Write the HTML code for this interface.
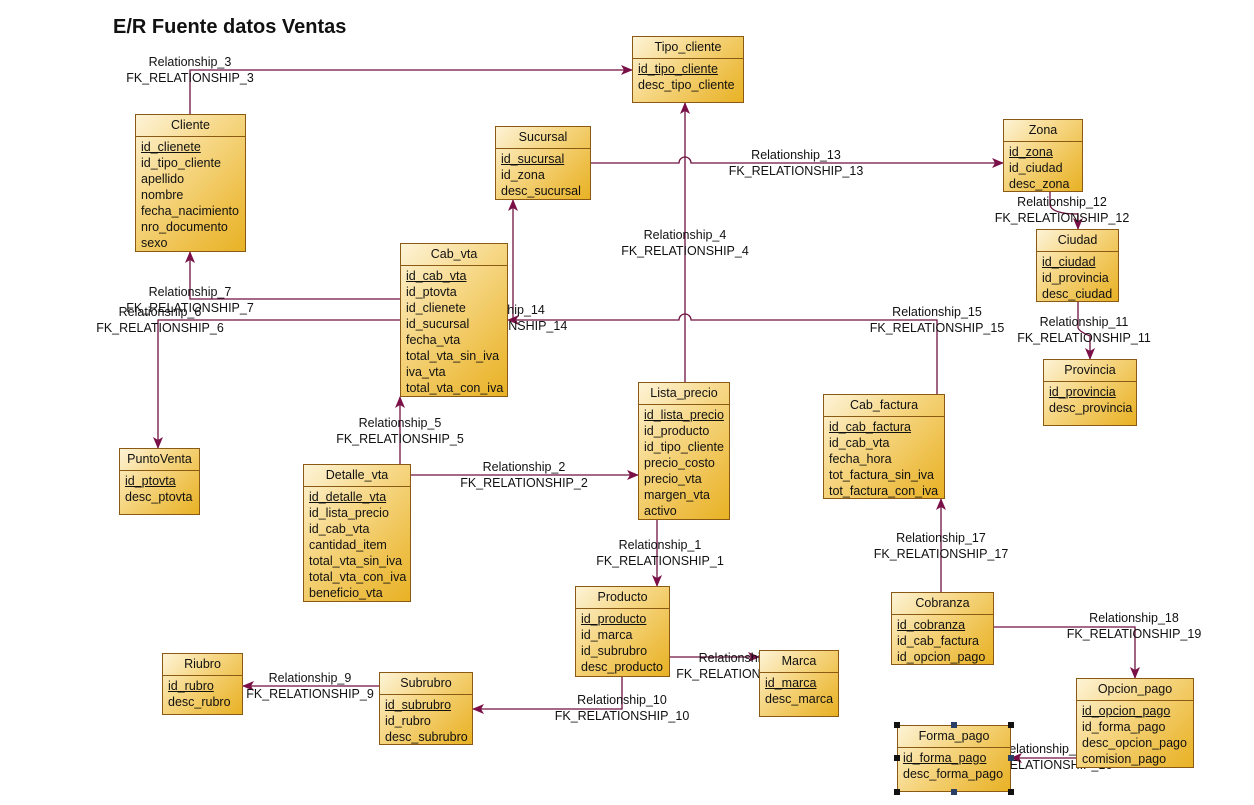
<!DOCTYPE html>
<html><head><meta charset="utf-8"><style>
body{margin:0;width:1254px;height:805px;background:#fff;position:relative;overflow:hidden;font-family:"Liberation Sans",Arial,sans-serif;font-size:12px;color:#111}
.e{position:absolute;border:1px solid #8a5a14;background:linear-gradient(135deg,#fdf3d6 0%,#f6d785 40%,#eec04a 75%,#e8b225 100%);box-sizing:border-box}
.e .h{height:21px;line-height:21px;text-align:center;border-bottom:1px solid #8a5a14;font-size:12.5px}
.e .r{padding:2px 0 0 5px;line-height:16px;white-space:nowrap;font-size:12.5px}
.e .r u{text-decoration:underline}
.l{position:absolute;transform:translateX(-50%);text-align:center;line-height:16px;white-space:nowrap;font-size:12.5px}
svg{position:absolute;left:0;top:0}
.t{position:absolute;left:113px;top:16px;font-weight:bold;font-size:20px}
</style></head><body>
<div class="t">E/R Fuente datos Ventas</div>
<svg width="1254" height="805" viewBox="0 0 1254 805">
<defs><marker id="a" markerWidth="12" markerHeight="12" refX="11" refY="6" orient="auto" markerUnits="userSpaceOnUse"><path d="M0,1 L12,6 L0,11 L3,6z" fill="#7a1047"/></marker></defs>
<g fill="none" stroke="#6e1240" stroke-width="1.3">
<path d="M190,114 V70 H632" marker-end="url(#a)"/>
<path d="M685,382 V103" marker-end="url(#a)"/>
<path d="M591,163 H679 a6,6 0 0 1 12,0 H1003" marker-end="url(#a)"/>
<path d="M1050,192 V205 Q1052,214 1078,214 V229" marker-end="url(#a)"/>
<path d="M1078,302 V328 Q1080,332 1090,336 V359" marker-end="url(#a)"/>
<path d="M937,394 V320 H691 a6,6 0 0 0 -12,0 H508" marker-end="url(#a)"/>
<path d="M513,320 V200" marker-end="url(#a)"/>
<path d="M400,299 H190 V252" marker-end="url(#a)"/>
<path d="M400,320 H158 V448" marker-end="url(#a)"/>
<path d="M400,464 V397" marker-end="url(#a)"/>
<path d="M411,475 H638" marker-end="url(#a)"/>
<path d="M657,520 V586" marker-end="url(#a)"/>
<path d="M670,657 H759" marker-end="url(#a)"/>
<path d="M622,677 V709 H473" marker-end="url(#a)"/>
<path d="M379,686 H243" marker-end="url(#a)"/>
<path d="M941,592 V499" marker-end="url(#a)"/>
<path d="M994,627 H1135 V678" marker-end="url(#a)"/>
<path d="M1076,758 H1011" marker-end="url(#a)"/>
</g></svg>
<div class="l" style="left:190px;top:54px">Relationship_3<br>FK_RELATIONSHIP_3</div>
<div class="l" style="left:685px;top:227px">Relationship_4<br>FK_RELATIONSHIP_4</div>
<div class="l" style="left:796px;top:147px">Relationship_13<br>FK_RELATIONSHIP_13</div>
<div class="l" style="left:1062px;top:194px">Relationship_12<br>FK_RELATIONSHIP_12</div>
<div class="l" style="left:1084px;top:314px">Relationship_11<br>FK_RELATIONSHIP_11</div>
<div class="l" style="left:937px;top:304px">Relationship_15<br>FK_RELATIONSHIP_15</div>
<div class="l" style="left:500px;top:302px">Relationship_14<br>FK_RELATIONSHIP_14</div>
<div class="l" style="left:190px;top:284px">Relationship_7<br>FK_RELATIONSHIP_7</div>
<div class="l" style="left:160px;top:304px">Relationship_6<br>FK_RELATIONSHIP_6</div>
<div class="l" style="left:400px;top:415px">Relationship_5<br>FK_RELATIONSHIP_5</div>
<div class="l" style="left:524px;top:459px">Relationship_2<br>FK_RELATIONSHIP_2</div>
<div class="l" style="left:660px;top:537px">Relationship_1<br>FK_RELATIONSHIP_1</div>
<div class="l" style="left:740px;top:650px">Relationship_8<br>FK_RELATIONSHIP_8</div>
<div class="l" style="left:622px;top:692px">Relationship_10<br>FK_RELATIONSHIP_10</div>
<div class="l" style="left:310px;top:670px">Relationship_9<br>FK_RELATIONSHIP_9</div>
<div class="l" style="left:941px;top:530px">Relationship_17<br>FK_RELATIONSHIP_17</div>
<div class="l" style="left:1134px;top:610px">Relationship_18<br>FK_RELATIONSHIP_19</div>
<div class="l" style="left:1045px;top:741px">Relationship_16<br>FK_RELATIONSHIP_16</div>

<div class="e" style="left:632px;top:36px;width:112px;height:67px"><div class="h">Tipo_cliente</div><div class="r"><u>id_tipo_cliente</u><br>desc_tipo_cliente</div></div>
<div class="e" style="left:135px;top:114px;width:111px;height:138px"><div class="h">Cliente</div><div class="r"><u>id_clienete</u><br>id_tipo_cliente<br>apellido<br>nombre<br>fecha_nacimiento<br>nro_documento<br>sexo</div></div>
<div class="e" style="left:495px;top:126px;width:96px;height:74px"><div class="h">Sucursal</div><div class="r"><u>id_sucursal</u><br>id_zona<br>desc_sucursal</div></div>
<div class="e" style="left:1003px;top:119px;width:80px;height:73px"><div class="h">Zona</div><div class="r"><u>id_zona</u><br>id_ciudad<br>desc_zona</div></div>
<div class="e" style="left:1036px;top:229px;width:83px;height:73px"><div class="h">Ciudad</div><div class="r"><u>id_ciudad</u><br>id_provincia<br>desc_ciudad</div></div>
<div class="e" style="left:1043px;top:359px;width:94px;height:67px"><div class="h">Provincia</div><div class="r"><u>id_provincia</u><br>desc_provincia</div></div>
<div class="e" style="left:400px;top:243px;width:108px;height:154px"><div class="h">Cab_vta</div><div class="r"><u>id_cab_vta</u><br>id_ptovta<br>id_clienete<br>id_sucursal<br>fecha_vta<br>total_vta_sin_iva<br>iva_vta<br>total_vta_con_iva</div></div>
<div class="e" style="left:119px;top:448px;width:81px;height:67px"><div class="h">PuntoVenta</div><div class="r"><u>id_ptovta</u><br>desc_ptovta</div></div>
<div class="e" style="left:303px;top:464px;width:108px;height:138px"><div class="h">Detalle_vta</div><div class="r"><u>id_detalle_vta</u><br>id_lista_precio<br>id_cab_vta<br>cantidad_item<br>total_vta_sin_iva<br>total_vta_con_iva<br>beneficio_vta</div></div>
<div class="e" style="left:638px;top:382px;width:92px;height:138px"><div class="h">Lista_precio</div><div class="r"><u>id_lista_precio</u><br>id_producto<br>id_tipo_cliente<br>precio_costo<br>precio_vta<br>margen_vta<br>activo</div></div>
<div class="e" style="left:823px;top:394px;width:122px;height:105px"><div class="h">Cab_factura</div><div class="r"><u>id_cab_factura</u><br>id_cab_vta<br>fecha_hora<br>tot_factura_sin_iva<br>tot_factura_con_iva</div></div>
<div class="e" style="left:575px;top:586px;width:95px;height:91px"><div class="h">Producto</div><div class="r"><u>id_producto</u><br>id_marca<br>id_subrubro<br>desc_producto</div></div>
<div class="e" style="left:759px;top:650px;width:80px;height:67px"><div class="h">Marca</div><div class="r"><u>id_marca</u><br>desc_marca</div></div>
<div class="e" style="left:162px;top:653px;width:81px;height:62px"><div class="h">Riubro</div><div class="r"><u>id_rubro</u><br>desc_rubro</div></div>
<div class="e" style="left:379px;top:672px;width:94px;height:73px"><div class="h">Subrubro</div><div class="r"><u>id_subrubro</u><br>id_rubro<br>desc_subrubro</div></div>
<div class="e" style="left:891px;top:592px;width:103px;height:73px"><div class="h">Cobranza</div><div class="r"><u>id_cobranza</u><br>id_cab_factura<br>id_opcion_pago</div></div>
<div class="e" style="left:1076px;top:678px;width:118px;height:90px"><div class="h">Opcion_pago</div><div class="r"><u>id_opcion_pago</u><br>id_forma_pago<br>desc_opcion_pago<br>comision_pago</div></div>
<div class="e" style="left:897px;top:725px;width:114px;height:67px"><div class="h">Forma_pago</div><div class="r"><u>id_forma_pago</u><br>desc_forma_pago</div></div>
<svg width="1254" height="805" style="pointer-events:none"><g fill="#111">
<rect x="894" y="722" width="6" height="6"/><rect x="951" y="722" width="6" height="6" fill="#2a3f66"/><rect x="1008" y="722" width="6" height="6"/>
<rect x="894" y="755" width="6" height="6"/><rect x="1008" y="755" width="6" height="6" fill="#2a3f66"/>
<rect x="894" y="789" width="6" height="6"/><rect x="951" y="789" width="6" height="6" fill="#2a3f66"/><rect x="1008" y="789" width="6" height="6"/>
</g></svg>
</body></html>
